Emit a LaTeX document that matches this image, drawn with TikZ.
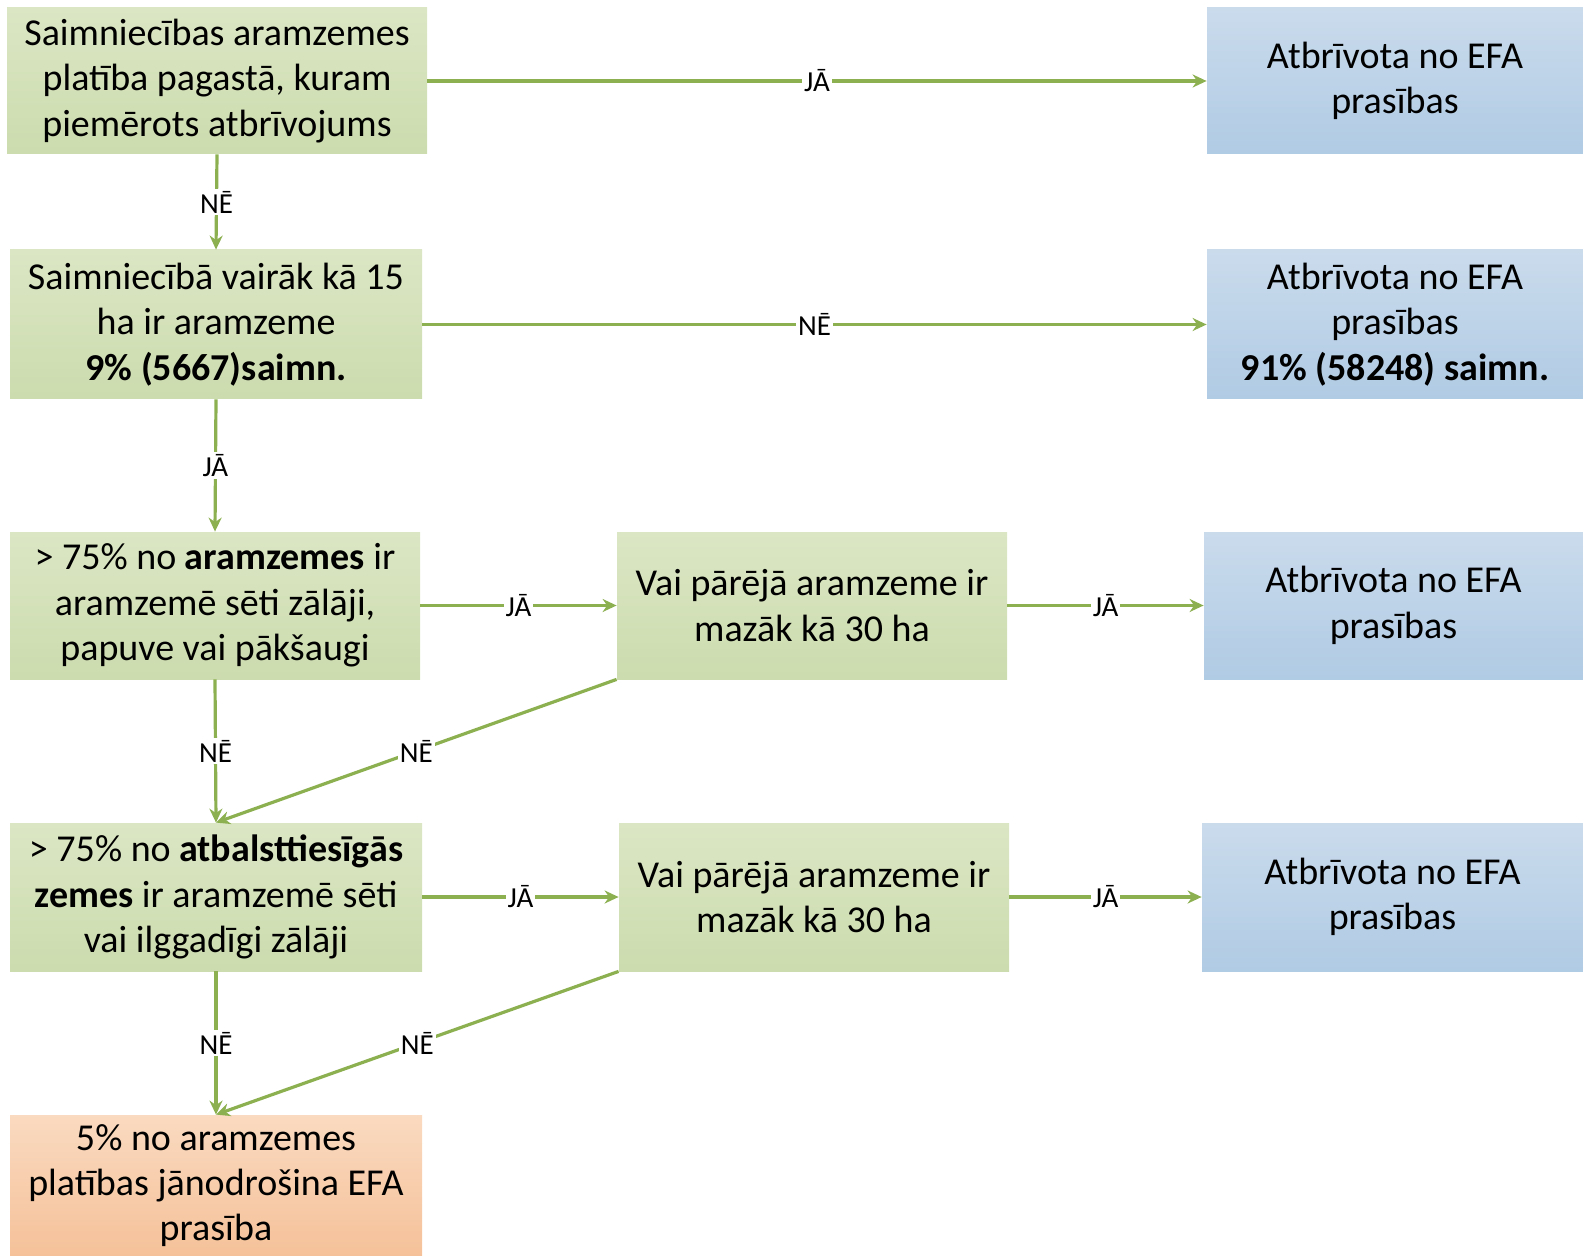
\documentclass[tikz,border=0pt]{standalone}
\usepackage{fontspec}
\setmainfont{Carlito}
\usetikzlibrary{arrows.meta}
\definecolor{grtop}{RGB}{219,230,196}
\definecolor{grbot}{RGB}{204,220,174}
\definecolor{bltop}{RGB}{202,219,236}
\definecolor{blbot}{RGB}{176,203,228}
\definecolor{ortop}{RGB}{250,218,192}
\definecolor{orbot}{RGB}{245,193,153}
\definecolor{linegreen}{RGB}{140,176,80}

\begin{document}
\begin{tikzpicture}[x=0.5pt,y=-0.5pt,>={Stealth[length=7pt,width=6.5pt]},
  every node/.style={align=center,font=\fontsize{19}{22.7}\selectfont},
  greenbox/.style={top color=grtop,bottom color=grbot,inner sep=0pt},
  bluebox/.style={top color=bltop,bottom color=blbot,inner sep=0pt},
  orangebox/.style={top color=ortop,bottom color=orbot,inner sep=0pt},
  lbl/.style={fill=white,inner sep=1pt,font=\fontsize{14.5}{16}\selectfont},
  conn/.style={->,draw=linegreen,line width=1.6pt}]
\useasboundingbox (0,0) rectangle (1583,1256);
% left column
\node[greenbox,minimum width=210pt,minimum height=73pt] (pag) at (217,81)
  {Saimniecības aramzemes\\platība pagastā, kuram\\piemērots atbrīvojums};
\node[greenbox,minimum width=206pt,minimum height=74.5pt] (ha) at (216,324.5)
  {Saimniecībā vairāk kā 15\\ha ir aramzeme\\\textbf{9\% (5667)saimn.}};
\node[greenbox,minimum width=205pt,minimum height=73.5pt] (zal) at (215,605.5)
  {> 75\% no \textbf{aramzemes} ir\\aramzemē sēti zālāji,\\papuve vai pākšaugi};
\node[greenbox,minimum width=206pt,minimum height=74pt] (atb) at (216,897)
  {> 75\% no \textbf{atbalsttiesīgās}\\\textbf{zemes} ir aramzemē sēti\\vai ilggadīgi zālāji};
\node[orangebox,minimum width=206pt,minimum height=70.5pt] (efa) at (216,1185.5)
  {5\% no aramzemes\\platības jānodrošina EFA\\prasība};
% middle column
\node[greenbox,minimum width=195pt,minimum height=73.5pt] (rest1) at (812,605.5)
  {Vai pārējā aramzeme ir\\mazāk kā 30 ha};
\node[greenbox,minimum width=195pt,minimum height=74pt] (rest2) at (814,897)
  {Vai pārējā aramzeme ir\\mazāk kā 30 ha};
% right column
\node[bluebox,minimum width=188pt,minimum height=73pt] (free1) at (1395,81)
  {Atbrīvota no EFA\\prasības};
\node[bluebox,minimum width=188pt,minimum height=74.5pt] (free2) at (1395,324.5)
  {Atbrīvota no EFA\\prasības\\\textbf{91\% (58248) saimn.}};
\node[bluebox,minimum width=189.5pt,minimum height=73.5pt] (free3) at (1393.5,605.5)
  {Atbrīvota no EFA\\prasības};
\node[bluebox,minimum width=190.5pt,minimum height=74pt] (free4) at (1392.5,897)
  {Atbrīvota no EFA\\prasības};
% connectors
\draw[conn] (pag.east) -- node[lbl] {JĀ} (free1.west);
\draw[conn] (pag.south) -- node[lbl] {NĒ} (ha.north);
\draw[conn] (ha.east) -- node[lbl] {NĒ} (free2.west);
\draw[conn] (ha.south) -- node[lbl] {JĀ} (zal.north);
\draw[conn] (zal.east) -- node[lbl] {JĀ} (rest1.west);
\draw[conn] (rest1.east) -- node[lbl] {JĀ} (free3.west);
\draw[conn] (zal.south) -- node[lbl] {NĒ} (atb.north);
\draw[conn] (rest1.south west) -- node[lbl] {NĒ} (atb.north);
\draw[conn] (atb.east) -- node[lbl] {JĀ} (rest2.west);
\draw[conn] (rest2.east) -- node[lbl] {JĀ} (free4.west);
\draw[conn] (atb.south) -- node[lbl] {NĒ} (efa.north);
\draw[conn] (rest2.south west) -- node[lbl] {NĒ} (efa.north);
\end{tikzpicture}
\end{document}
